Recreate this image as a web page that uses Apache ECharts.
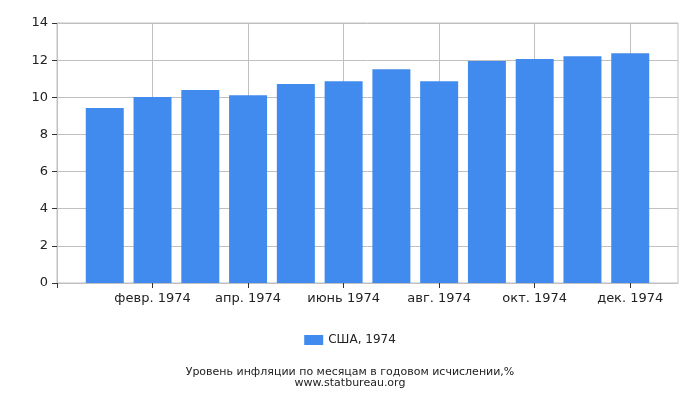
<!DOCTYPE html>
<html>
<head>
<meta charset="utf-8">
<script src="https://cdn.jsdelivr.net/npm/echarts@6/dist/echarts.min.js"></script>
<style>
  html, body { margin: 0; padding: 0; background: #fff; }
  #chart { width: 700px; height: 400px; }
</style>
</head>
<body>
<div id="chart"></div>
<script>
const months = ['янв. 1974', 'февр. 1974', 'март 1974', 'апр. 1974', 'май 1974', 'июнь 1974',
                'июль 1974', 'авг. 1974', 'сент. 1974', 'окт. 1974', 'нояб. 1974', 'дек. 1974'];
const inflation = [9.42, 10.02, 10.39, 10.11, 10.72, 10.87, 11.51, 10.87, 11.95, 12.06, 12.21, 12.37];
const yTicks = [0, 2, 4, 6, 8, 10, 12, 14];
const seriesName = 'США, 1974';

// пустые категории по краям, как на оригинале
const axisCats = [''].concat(months, ['']);
const barData = [null].concat(inflation, [null]);

const font = 'DejaVu Sans';
const chart = echarts.init(document.getElementById('chart'));
chart.setOption({
    animation: false,
    textStyle: { fontFamily: font },
    grid: { left: 57, right: 22, top: 23, bottom: 117, show: true, borderColor: '#c0c0c0', borderWidth: 1 },
    legend: {
        bottom: 49,
        left: 'center',
        icon: 'rect',
        itemWidth: 19,
        itemHeight: 10,
        itemGap: 6,
        textStyle: { fontFamily: font, fontSize: 12, color: '#222' },
        data: [seriesName]
    },
    title: {
        text: 'Уровень инфляции по месяцам в годовом исчислении,%\nwww.statbureau.org',
        left: 'center',
        bottom: 6,
        textStyle: { fontFamily: font, fontSize: 11, fontWeight: 'normal', color: '#222', lineHeight: 11 }
    },
    xAxis: {
        type: 'category',
        data: axisCats,
        boundaryGap: false,
        axisLine: { lineStyle: { color: '#c0c0c0' } },
        axisTick: { interval: 1, length: 5, lineStyle: { color: '#333' } },
        axisLabel: { interval: 1, color: '#222', fontSize: 13, margin: 9, fontFamily: font },
        splitLine: { show: true, interval: 1, lineStyle: { color: '#c0c0c0' } }
    },
    yAxis: {
        type: 'value',
        min: yTicks[0],
        max: yTicks[yTicks.length - 1],
        interval: 2,
        axisLine: { show: true, lineStyle: { color: '#c0c0c0' } },
        axisTick: { show: true, length: 5, lineStyle: { color: '#333' } },
        axisLabel: { color: '#222', fontSize: 13, margin: 9, fontFamily: font },
        splitLine: { lineStyle: { color: '#c0c0c0' } }
    },
    series: [{
        name: seriesName,
        type: 'bar',
        data: barData,
        barWidth: 38,
        itemStyle: { color: '#418bee', borderRadius: 0 }
    }]
});
</script>
</body>
</html>
